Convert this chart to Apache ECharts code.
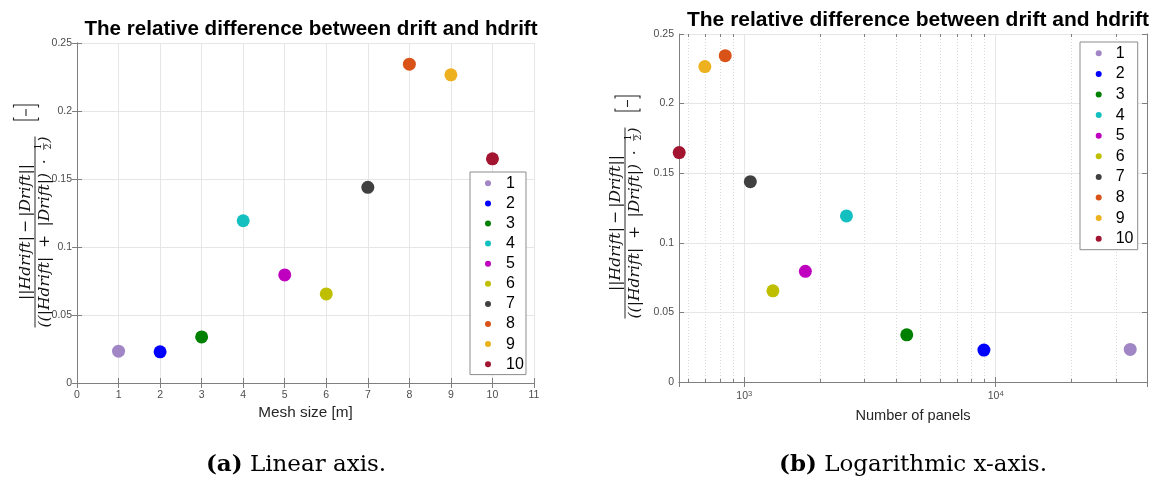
<!DOCTYPE html>
<html>
<head>
<meta charset="utf-8">
<script src="https://cdn.jsdelivr.net/npm/echarts@6/dist/echarts.min.js"></script>
<style>
  html, body { margin: 0; padding: 0; background: #ffffff; }
  #chart { width: 1152px; height: 481px; }
</style>
</head>
<body>
<div id="chart"></div>
<script>
// ---- data ----
const seriesNames = ['1', '2', '3', '4', '5', '6', '7', '8', '9', '10'];
const seriesColors = ['#a086c4', '#0000ff', '#008000', '#13bfbf', '#bf00bf',
                      '#bfbf00', '#404040', '#d95319', '#edb120', '#a2142f'];
const meshSize = [1, 2, 3, 4, 5, 6, 7, 8, 9, 10];
const numPanels = [34300, 8980, 4430, 2550, 1750, 1300, 1057, 840, 697, 551];
const relDiff = [0.0234, 0.0229, 0.0339, 0.1193, 0.0795, 0.0655, 0.1439, 0.2344, 0.2266, 0.1648];
const minorPanelTicks = [600, 700, 800, 900, 2000, 3000, 4000, 5000, 6000, 7000, 8000, 9000, 20000, 30000];

const titleText = 'The relative difference between drift and hdrift';
const numText = '||Hdrift|\u2009\u2212\u2009|Drift||';
const denParts = ['((|Hdrift|', '+', '|Drift|)', '\u00b7'];

const SANS = '"Liberation Sans", Arial, sans-serif';
const SERIF = '"DejaVu Serif", serif';
const AXIS_COLOR = '#7f7f7f';
const LABEL_COLOR = '#4d4d4d';
const GRID_COLOR = '#e6e6e6';

// ---- text measuring for the rotated fraction label ----
const mctx = document.createElement('canvas').getContext('2d');
function textWidth(str, size, style) {
  mctx.font = (style || 'normal') + ' ' + size + 'px "DejaVu Serif"';
  return mctx.measureText(str).width;
}
const NUM_W = 136, DEN_W = 191;
const mathFs = 16 * NUM_W / textWidth(numText, 16, 'italic');
const fracFs = mathFs * 0.6;
const fracW = textWidth('2', fracFs) + 2;
const parenW = textWidth(')', mathFs, 'italic');
const partW = denParts.map(s => textWidth(s, mathFs, 'italic'));
const fixedW = partW.reduce((a, b) => a + b, 0) + fracW + parenW;
const opGap = Math.max(1, (DEN_W - fixedW) / 4);

function fractionLabel(cx, cy, bracketY) {
  const x0 = -DEN_W / 2;
  const barY = 1.5 + 0.45 * mathFs;
  const mathStyle = { fontSize: mathFs, fontFamily: SERIF, fontStyle: 'italic', fill: '#111' };
  const children = [
    { type: 'text', x: 0, y: -1.5,
      style: Object.assign({ text: numText, align: 'center', verticalAlign: 'bottom' }, mathStyle) },
    { type: 'line', shape: { x1: x0, y1: 0, x2: -x0, y2: 0 }, style: { stroke: '#111', lineWidth: 0.9 } }
  ];
  let x = x0;
  denParts.forEach((s, i) => {
    children.push({ type: 'text', x: x, y: 1.5,
      style: Object.assign({ text: s, align: 'left', verticalAlign: 'top' }, mathStyle) });
    x += partW[i] + opGap;
  });
  const fracX = x + fracW / 2;
  children.push(
    { type: 'text', x: fracX, y: barY - 0.6,
      style: { text: '1', fontSize: fracFs, fontFamily: SERIF, fill: '#111', align: 'center', verticalAlign: 'bottom' } },
    { type: 'line', shape: { x1: fracX - fracW / 2 + 0.5, y1: barY, x2: fracX + fracW / 2 - 0.5, y2: barY },
      style: { stroke: '#111', lineWidth: 0.6 } },
    { type: 'text', x: fracX, y: barY + 0.6,
      style: { text: '2', fontSize: fracFs, fontFamily: SERIF, fill: '#111', align: 'center', verticalAlign: 'top' } },
    { type: 'text', x: x + fracW, y: 1.5,
      style: Object.assign({ text: ')', align: 'left', verticalAlign: 'top' }, mathStyle) }
  );
  // unit brackets [-]
  const bx = 112, bh = 12.5, by = bracketY;
  children.push(
    { type: 'polyline', shape: { points: [[bx + 2.5, by - bh], [bx, by - bh], [bx, by + bh], [bx + 2.5, by + bh]] },
      style: { stroke: '#222', fill: null, lineWidth: 1.1 } },
    { type: 'line', shape: { x1: bx + 4, y1: by, x2: bx + 11, y2: by }, style: { stroke: '#222', lineWidth: 1.1 } },
    { type: 'polyline', shape: { points: [[bx + 12.5, by - bh], [bx + 15, by - bh], [bx + 15, by + bh], [bx + 12.5, by + bh]] },
      style: { stroke: '#222', fill: null, lineWidth: 1.1 } }
  );
  return { type: 'group', x: cx, y: cy, rotation: Math.PI / 2, silent: true, children: children };
}

function caption(cx, tag, rest) {
  return {
    type: 'text', x: cx, y: 465, silent: true,
    style: {
      text: '{b|' + tag + '}{n|' + rest + '}',
      align: 'center', verticalAlign: 'middle', fill: '#000',
      fontSize: 23, fontFamily: SERIF,
      rich: {
        b: { fontSize: 23, fontFamily: SERIF, fontWeight: 'bold', fill: '#000' },
        n: { fontSize: 23, fontFamily: SERIF, fontWeight: 'normal', fill: '#000' }
      }
    }
  };
}

// ---- axes ----
const boxAxis = {
  axisLine: { show: true, lineStyle: { color: AXIS_COLOR, width: 1 } },
  axisTick: { show: true, inside: true, length: 5, lineStyle: { color: AXIS_COLOR } },
  axisLabel: { show: false },
  splitLine: { show: false }
};
const yBase = {
  type: 'value', min: 0, max: 0.25, interval: 0.05,
  axisLine: { show: true, lineStyle: { color: AXIS_COLOR, width: 1 } },
  axisTick: { show: true, inside: true, length: 5, lineStyle: { color: AXIS_COLOR } },
  axisLabel: { color: LABEL_COLOR, fontSize: 10.5, fontFamily: SANS, margin: 5 },
  splitLine: { show: true, lineStyle: { color: GRID_COLOR, width: 1 } }
};
function logLabel(v) {
  const e = Math.log10(v);
  if (Math.abs(e - Math.round(e)) < 1e-6) return '{b|10}{s|' + Math.round(e) + '}';
  return '';
}

const series = [];
for (let i = 0; i < seriesNames.length; i++) {
  series.push({
    type: 'scatter', name: seriesNames[i], xAxisIndex: 0, yAxisIndex: 0,
    data: [[meshSize[i], relDiff[i]]], symbol: 'circle', symbolSize: 13,
    itemStyle: { color: seriesColors[i], opacity: 1 }, z: 5
  });
}
for (let i = 0; i < seriesNames.length; i++) {
  series.push({
    type: 'scatter', name: seriesNames[i], xAxisIndex: 2, yAxisIndex: 2,
    data: [[numPanels[i], relDiff[i]]], symbol: 'circle', symbolSize: 13, clip: false,
    itemStyle: { color: seriesColors[i], opacity: 1 }, z: 5
  });
}
// minor decade gridlines and ticks on the logarithmic axis
series.push({
  type: 'custom', xAxisIndex: 2, yAxisIndex: 2, silent: true, z: 1,
  data: minorPanelTicks.map(v => [v]),
  encode: { x: 0 },
  renderItem: function (params, api) {
    const v = api.value(0);
    const b = api.coord([v, 0]);
    const t = api.coord([v, 0.25]);
    const x = Math.round(b[0]) + 0.5;
    return {
      type: 'group',
      children: [
        { type: 'line', shape: { x1: x, y1: b[1], x2: x, y2: t[1] },
          style: { stroke: '#d9d9d9', lineWidth: 1, lineDash: [1, 2] } },
        { type: 'line', shape: { x1: x, y1: b[1], x2: x, y2: b[1] - 3 },
          style: { stroke: AXIS_COLOR, lineWidth: 1 } },
        { type: 'line', shape: { x1: x, y1: t[1], x2: x, y2: t[1] + 3 },
          style: { stroke: AXIS_COLOR, lineWidth: 1 } }
      ]
    };
  }
});

const legendCommon = {
  orient: 'vertical', icon: 'circle', itemHeight: 6,
  data: seriesNames,
  borderColor: '#8c8c8c', borderWidth: 1, backgroundColor: '#ffffff',
  textStyle: { fontSize: 16, fontFamily: SANS, color: '#000', lineHeight: 16 },
  selectedMode: false
};

const option = {
  animation: false,
  backgroundColor: '#ffffff',
  title: [
    { text: titleText, left: 306, top: 14, textAlign: 'center',
      textStyle: { fontSize: 20.6, fontWeight: 'bold', fontFamily: SANS, color: '#000' } },
    { text: titleText, left: 913, top: 4.5, textAlign: 'center',
      textStyle: { fontSize: 21, fontWeight: 'bold', fontFamily: SANS, color: '#000' } }
  ],
  grid: [
    { left: 77, top: 43, right: 618, bottom: 98, containLabel: false },
    { left: 679, top: 34, right: 5, bottom: 99, containLabel: false }
  ],
  xAxis: [
    { gridIndex: 0, type: 'value', min: 0, max: 11, interval: 1,
      axisLine: { show: true, lineStyle: { color: AXIS_COLOR, width: 1 } },
      axisTick: { show: true, inside: true, length: 5, lineStyle: { color: AXIS_COLOR } },
      axisLabel: { color: LABEL_COLOR, fontSize: 10.5, fontFamily: SANS, margin: 6.5 },
      splitLine: { show: true, lineStyle: { color: GRID_COLOR, width: 1 } },
      name: 'Mesh size [m]', nameLocation: 'middle', nameGap: 22,
      nameTextStyle: { fontSize: 15.3, fontFamily: SANS, color: '#262626' } },
    Object.assign({ gridIndex: 0, type: 'value', min: 0, max: 11, interval: 1, position: 'top' }, boxAxis),
    { gridIndex: 1, type: 'log', logBase: 10, min: 550, max: 40000,
      axisLine: { show: true, lineStyle: { color: AXIS_COLOR, width: 1 } },
      axisTick: { show: true, inside: true, length: 5, lineStyle: { color: AXIS_COLOR } },
      axisLabel: { formatter: logLabel, margin: 8, showMinLabel: false, showMaxLabel: false,
        rich: {
          b: { fontSize: 10.5, fontFamily: SANS, color: LABEL_COLOR, lineHeight: 12, verticalAlign: 'bottom' },
          s: { fontSize: 7.5, fontFamily: SANS, color: LABEL_COLOR, lineHeight: 12, verticalAlign: 'top' }
        } },
      splitLine: { show: true, lineStyle: { color: GRID_COLOR, width: 1 } },
      name: 'Number of panels', nameLocation: 'middle', nameGap: 26,
      nameTextStyle: { fontSize: 14.6, fontFamily: SANS, color: '#262626' } },
    Object.assign({ gridIndex: 1, type: 'log', logBase: 10, min: 550, max: 40000, position: 'top' }, boxAxis)
  ],
  yAxis: [
    Object.assign({ gridIndex: 0 }, yBase),
    Object.assign({ gridIndex: 0, type: 'value', min: 0, max: 0.25, interval: 0.05, position: 'right' }, boxAxis),
    Object.assign({ gridIndex: 1 }, yBase),
    Object.assign({ gridIndex: 1, type: 'value', min: 0, max: 0.25, interval: 0.05, position: 'right' }, boxAxis)
  ],
  legend: [
    Object.assign({ left: 470, top: 172, itemWidth: 26, itemGap: 4.1, padding: [3.3, 2.2, 2.4, 15] }, legendCommon),
    Object.assign({ left: 1080, top: 42, itemWidth: 24, itemGap: 4.6, padding: [3.3, 4.2, 3, 15.7] }, legendCommon)
  ],
  graphic: {
    elements: [
      fractionLabel(35, 232, -9),
      fractionLabel(625, 223, 2.5),
      caption(296, '(a)', ' Linear axis.'),
      caption(913, '(b)', ' Logarithmic x-axis.')
    ]
  },
  series: series
};

const chart = echarts.init(document.getElementById('chart'), null, { renderer: 'canvas' });
chart.setOption(option);
</script>
</body>
</html>
